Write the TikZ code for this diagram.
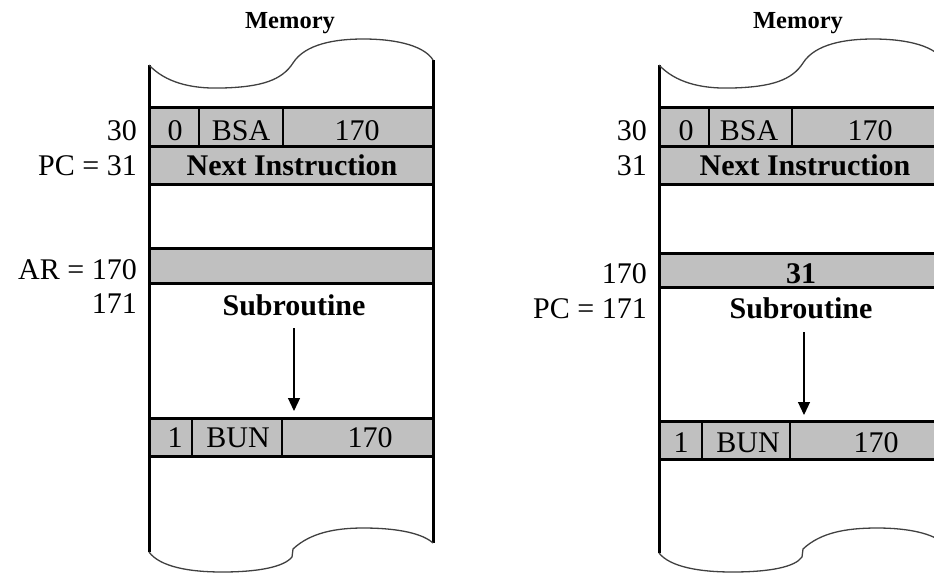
\documentclass[tikz,border=0pt]{standalone}
\usepackage{fontspec}
\setmainfont{Liberation Serif}
\usetikzlibrary{arrows.meta}
\definecolor{memgray}{HTML}{C0C0C0}
\definecolor{wavegray}{HTML}{404040}
\begin{document}
\begin{tikzpicture}[x=1pt,y=-1pt,
  wall/.style={line width=3pt},
  rowline/.style={line width=3pt},
  divider/.style={line width=1.3pt},
  wave/.style={line width=1.3pt, draw=wavegray},
  txt/.style={font=\fontsize{30}{36}\selectfont, inner sep=0pt, anchor=base},
  btxt/.style={font=\bfseries\fontsize{30}{36}\selectfont, inner sep=0pt, anchor=base},
  lbl/.style={font=\fontsize{30}{36}\selectfont, inner sep=0pt, anchor=base east},
  memtitle/.style={font=\bfseries\fontsize{24.5}{29}\selectfont, inner sep=0pt, anchor=base},
  flow/.style={line width=1.2pt, -{Triangle[length=13pt,width=12pt]}}
]
\useasboundingbox (0,0) rectangle (934,574);
\clip (0,0) rectangle (934,574);

% ================= LEFT =================
\node[memtitle] (memL) at (290,28) {Memory};
% gray rows
\fill[memgray] (149,107) rectangle (433,184);
\fill[memgray] (149,248) rectangle (433,283);
\fill[memgray] (149,418) rectangle (433,456);
% row lines
\draw[rowline] (149,107) -- (433,107);
\draw[rowline] (149,146) -- (433,146);
\draw[rowline] (149,184) -- (433,184);
\draw[rowline] (149,248) -- (433,248);
\draw[rowline] (149,283) -- (433,283);
\draw[rowline] (149,418) -- (433,418);
\draw[rowline] (149,456) -- (433,456);
\draw[divider] (199,107) -- (199,146);
\draw[divider] (283,107) -- (283,146);
\draw[divider] (192,418) -- (192,456);
\draw[divider] (282,418) -- (282,456);
% walls
\draw[wall] (149,65) -- (149,552);
\draw[wall] (433,60) -- (433,543);
% waves
\draw[wave] (149,65) .. controls (165,82) and (190,89) .. (222,88)
  .. controls (262,87) and (282,80) .. (293,63)
  .. controls (305,44) and (335,39) .. (363,39)
  .. controls (400,39) and (425,47) .. (433,60);
\draw[wave] (149,552) .. controls (160,567) and (190,572) .. (222,572)
  .. controls (258,572) and (284,567) .. (292,557) -- (293,549)
  .. controls (310,533) and (335,528) .. (363,528)
  .. controls (400,528) and (423,534) .. (433,543);
% texts
\node[txt] (l0) at (175,140) {0};
\node[txt] (lbsa) at (241,140) {BSA};
\node[txt] (l170a) at (357,140) {170};
\node[btxt] (lnext) at (292,175) {Next Instruction};
\node[btxt] (lsub) at (294,315) {Subroutine};
\node[txt] (l1) at (175,447) {1};
\node[txt] (lbun) at (238,447) {BUN};
\node[txt] (l170b) at (370,447) {170};
\node[lbl] (la30) at (137,140) {30};
\node[lbl] (la31) at (137,175) {PC = 31};
\node[lbl] (la170) at (137,279) {AR = 170};
\node[lbl] (la171) at (137,313) {171};
\coordinate (larA) at (294,328);
\coordinate (larB) at (294,411);
\draw[flow] (larA) -- (larB);

% ================= RIGHT =================
\node[memtitle] (memR) at (798,28) {Memory};
\fill[memgray] (659,107) rectangle (943,184);
\fill[memgray] (659,253) rectangle (943,287);
\fill[memgray] (659,421) rectangle (943,459);
\draw[rowline] (659,107) -- (943,107);
\draw[rowline] (659,146) -- (943,146);
\draw[rowline] (659,184) -- (943,184);
\draw[rowline] (659,253) -- (943,253);
\draw[rowline] (659,287) -- (943,287);
\draw[rowline] (659,421) -- (943,421);
\draw[rowline] (659,459) -- (943,459);
\draw[divider] (709,107) -- (709,146);
\draw[divider] (792,107) -- (792,146);
\draw[divider] (702,421) -- (702,459);
\draw[divider] (790,421) -- (790,459);
\draw[wall] (659,65) -- (659,553);
\draw[wall] (943,60) -- (943,543);
\draw[wave] (659,65) .. controls (675,82) and (700,89) .. (732,88)
  .. controls (772,87) and (792,80) .. (803,63)
  .. controls (815,44) and (845,39) .. (873,39)
  .. controls (910,39) and (935,47) .. (943,60);
\draw[wave] (659,553) .. controls (670,567) and (700,572) .. (732,572)
  .. controls (770,572) and (795,567) .. (802,557) -- (803,549)
  .. controls (820,533) and (845,528) .. (877,528)
  .. controls (910,528) and (933,534) .. (943,543);
\node[txt] (r0) at (686,140) {0};
\node[txt] (rbsa) at (749,140) {BSA};
\node[txt] (r170a) at (870,140) {170};
\node[btxt] (rnext) at (805,175) {Next Instruction};
\node[btxt] (r31) at (801,283) {31};
\node[btxt] (rsub) at (801,318) {Subroutine};
\node[txt] (r1) at (681,452) {1};
\node[txt] (rbun) at (748,452) {BUN};
\node[txt] (r170b) at (876,452) {170};
\node[lbl] (ra30) at (647,140) {30};
\node[lbl] (ra31) at (647,175) {31};
\node[lbl] (ra170) at (647,283) {170};
\node[lbl] (ra171) at (647,318) {PC = 171};
\coordinate (rarA) at (804,332);
\coordinate (rarB) at (804,415);
\draw[flow] (rarA) -- (rarB);
\end{tikzpicture}
\end{document}
